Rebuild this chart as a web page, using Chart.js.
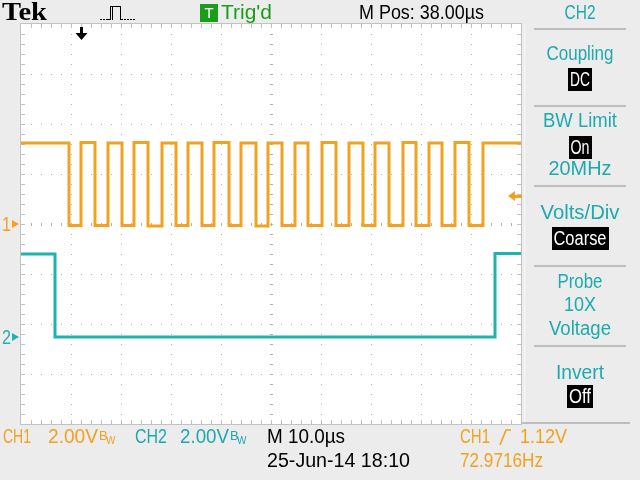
<!DOCTYPE html>
<html>
<head>
<meta charset="utf-8">
<script src="https://cdn.jsdelivr.net/npm/chart.js@4.4.1/dist/chart.umd.min.js"></script>
<style>
html, body { margin: 0; padding: 0; background: #ececec; }
#wrap { width: 640px; height: 480px; }
</style>
</head>
<body>
<div id="wrap"><canvas id="scope" width="640" height="480"></canvas></div>
<script>
// time is in us from the left edge of the screen (10 us/div), levels in volts
const ch1Times = [0, 9.6, 12.0, 14.8, 17.4, 20.2, 22.6, 25.4, 28.2, 31.0, 33.4, 36.2, 38.6,
  41.6, 44.0, 47.0, 49.4, 52.2, 54.8, 57.4, 60.2, 63.0, 65.6, 68.4, 70.8, 73.6, 76.4,
  79.0, 81.6, 84.2, 86.8, 89.6, 92.4, 100];
const ch1Volts = [3.24, -0.06, 3.26, -0.06, 3.24, -0.06, 3.26, -0.08, 3.24, -0.06, 3.24, -0.06, 3.26,
  -0.06, 3.24, -0.08, 3.24, -0.06, 3.24, -0.06, 3.26, -0.06, 3.24, -0.06, 3.24, -0.06, 3.26,
  -0.06, 3.24, -0.06, 3.26, -0.06, 3.24, 3.24];
const ch2Times = [0, 6.8, 94.8, 100];
const ch2Volts = [3.32, 0.0, 3.34, 3.34];

const timeTicks = [0, 10, 20, 30, 40, 50, 60, 70, 80, 90, 100];
const voltTicks = [-8, -6, -4, -2, 0, 2, 4, 6, 8];

const ch2PosDiv = -2.26;   // CH2 ground position, divisions below centre
const trigTime = 12.0;
const trigLevel = 1.12;

const topLabels = ['Tek', "Trig'd", 'M Pos: 38.00\u00b5s', 'CH2'];
const menuText = ['Coupling', 'DC', 'BW Limit', 'On', '20MHz', 'Volts/Div', 'Coarse',
  'Probe', '10X', 'Voltage', 'Invert', 'Off'];
const bottomLabels = ['CH1', '2.00V', 'CH2', '2.00V', 'M 10.0\u00b5s', '25-Jun-14 18:10',
  'CH1', '1.12V', '72.9716Hz'];

const ORANGE = '#f2a120';
const CYAN = '#1fb2ae';
const CYAN_TXT = '#1ea9ae';
const GREEN = '#1a9e1a';
const FONT = '"Liberation Sans", Arial, sans-serif';

function toPoints(times, volts) {
  return times.map((t, i) => ({ x: t, y: volts[i] }));
}

// draw text squeezed/stretched to the width it has on the scope screen
function fitText(ctx, s, x, y, w, align) {
  const m = ctx.measureText(s).width;
  ctx.save();
  ctx.translate(x, y);
  ctx.scale(w / m, 1);
  ctx.textAlign = align || 'left';
  ctx.fillText(s, 0, 0);
  ctx.restore();
}

const scopeScreen = {
  id: 'scopeScreen',
  beforeDraw(chart) {
    const ctx = chart.ctx, a = chart.chartArea;
    const xs = chart.scales.x, ys = chart.scales.y;
    ctx.save();
    ctx.fillStyle = '#ececec';
    ctx.fillRect(0, 0, chart.width, chart.height);
    ctx.fillStyle = '#ffffff';
    ctx.fillRect(a.left, a.top, a.width, a.height);

    // dotted division lines
    ctx.fillStyle = '#b0b0b0';
    timeTicks.slice(1, -1).forEach(t => {
      const px = Math.round(xs.getPixelForValue(t));
      for (let y = a.top + 10; y < a.bottom - 2; y += 10) ctx.fillRect(px, y, 1, 1);
    });
    voltTicks.slice(1, -1).forEach(v => {
      const py = Math.round(ys.getPixelForValue(v));
      for (let x = a.left + 10; x < a.right - 2; x += 10) ctx.fillRect(x, py, 1, 1);
    });
    // centre cross ticks
    const cx = Math.round(xs.getPixelForValue(50)), cy = Math.round(ys.getPixelForValue(0));
    for (let y = a.top + 10; y < a.bottom - 2; y += 10) ctx.fillRect(cx - 1, y, 3, 1);
    for (let x = a.left + 10; x < a.right - 2; x += 10) ctx.fillRect(x, cy - 1, 1, 3);

    // border with minor ticks
    ctx.fillStyle = '#c2c2c2';
    ctx.fillRect(a.left - 1, a.top - 1, a.width + 2, 1);
    ctx.fillRect(a.left - 1, a.bottom, a.width + 2, 1);
    ctx.fillRect(a.left - 1, a.top - 1, 1, a.height + 2);
    ctx.fillRect(a.right, a.top - 1, 1, a.height + 2);
    for (let x = a.left + 10; x < a.right - 2; x += 10) {
      ctx.fillRect(x, a.top, 1, 4);
      ctx.fillRect(x, a.bottom - 4, 1, 4);
    }
    for (let y = a.top + 10; y < a.bottom - 2; y += 10) {
      ctx.fillRect(a.left, y, 4, 1);
      ctx.fillRect(a.right - 4, y, 4, 1);
    }

    // right menu frame
    ctx.fillStyle = '#f7f7f7';
    ctx.fillRect(a.right + 3, a.top, 1, a.height);
    ctx.fillStyle = '#bdbdbd';
    ctx.fillRect(534, 28, 92, 2);
    [105, 185, 265, 345].forEach(y => ctx.fillRect(534, y, 92, 2));
    ctx.fillRect(a.right + 1, a.bottom - 2, 108, 2);
    ctx.restore();
  },
  afterDatasetsDraw(chart) {
    const ctx = chart.ctx, a = chart.chartArea;
    const xs = chart.scales.x, ys = chart.scales.y, y2 = chart.scales.y2;
    ctx.save();
    // ground markers
    const g1 = ys.getPixelForValue(0), g2 = y2.getPixelForValue(0);
    ctx.font = '20px ' + FONT;
    ctx.textBaseline = 'middle';
    [[g1, ORANGE, '1'], [g2, CYAN, '2']].forEach(([gy, col, lab]) => {
      ctx.fillStyle = col;
      fitText(ctx, lab, 2, gy + 1, 9);
      ctx.beginPath();
      ctx.moveTo(12, gy - 4); ctx.lineTo(19, gy); ctx.lineTo(12, gy + 4);
      ctx.closePath(); ctx.fill();
    });
    // trigger level arrow
    const ty = ys.getPixelForValue(trigLevel);
    ctx.fillStyle = ORANGE;
    ctx.beginPath();
    ctx.moveTo(a.right - 13, ty); ctx.lineTo(a.right - 6, ty - 5); ctx.lineTo(a.right - 6, ty + 5);
    ctx.closePath(); ctx.fill();
    ctx.fillRect(a.right - 7, ty - 1, 8, 3);
    // trigger position arrow
    const tx = xs.getPixelForValue(trigTime);
    ctx.fillStyle = '#000';
    ctx.fillRect(tx - 1, a.top + 3, 3, 7);
    ctx.beginPath();
    ctx.moveTo(tx - 5.5, a.top + 9); ctx.lineTo(tx + 6.5, a.top + 9); ctx.lineTo(tx + 0.5, a.top + 16);
    ctx.closePath(); ctx.fill();
    ctx.restore();
  },
  afterDraw(chart) {
    const ctx = chart.ctx;
    ctx.save();
    ctx.textBaseline = 'middle';
    ctx.textAlign = 'left';

    // top bar
    ctx.fillStyle = '#000';
    ctx.font = 'bold 26px "Liberation Serif", serif';
    fitText(ctx, topLabels[0], 2, 13, 45);
    // acquisition icon
    [100, 103, 106].forEach(x => ctx.fillRect(x, 19, 2, 1));
    [124, 127, 130, 133].forEach(x => ctx.fillRect(x, 19, 2, 1));
    ctx.fillRect(108, 19, 2, 1);
    ctx.fillRect(110, 6, 1, 14);
    ctx.fillRect(112, 6, 1, 14);
    ctx.fillRect(110, 6, 11, 1);
    ctx.fillRect(120, 6, 1, 14);
    ctx.fillRect(121, 19, 2, 1);
    // trig'd
    ctx.fillStyle = GREEN;
    ctx.fillRect(200, 4, 18, 18);
    ctx.fillStyle = '#fff';
    ctx.font = '15px ' + FONT;
    ctx.textAlign = 'center';
    ctx.fillText('T', 209, 13.5);
    ctx.textAlign = 'left';
    ctx.font = '20px ' + FONT;
    ctx.fillStyle = GREEN;
    fitText(ctx, topLabels[1], 221, 13, 51);
    ctx.fillStyle = '#000';
    fitText(ctx, topLabels[2], 359, 13, 125);
    ctx.fillStyle = CYAN_TXT;
    fitText(ctx, topLabels[3], 580, 13, 31, 'center');

    // side menu
    const rowY = [53, 79, 120, 147, 168, 212, 238, 281, 304, 328, 372, 396];
    const rowW = [67, 20, 74, 19, 63, 79, 53, 45, 32, 62, 48, 22];
    const boxed = [false, true, false, true, false, false, true, false, false, false, false, true];
    menuText.forEach((s, i) => {
      const y = rowY[i];
      if (boxed[i]) {
        const w = rowW[i] + 4;
        ctx.fillStyle = '#000';
        ctx.fillRect(Math.round(580 - w / 2), y - 11, w, 23);
        ctx.fillStyle = '#fff';
      } else {
        ctx.fillStyle = CYAN_TXT;
      }
      fitText(ctx, s, 580, y + 1, rowW[i], 'center');
    });

    // bottom readout
    const bw = (x, y, col) => {
      ctx.fillStyle = col;
      ctx.font = '13px ' + FONT;
      ctx.fillText('B', x, y - 1);
      ctx.font = '10px ' + FONT;
      ctx.fillText('W', x + 7, y + 4);
      ctx.font = '20px ' + FONT;
    };
    ctx.font = '20px ' + FONT;
    ctx.fillStyle = ORANGE;
    fitText(ctx, bottomLabels[0], 3, 437, 28);
    fitText(ctx, bottomLabels[1], 48, 437, 50);
    bw(99, 437, ORANGE);
    ctx.fillStyle = CYAN_TXT;
    fitText(ctx, bottomLabels[2], 135, 437, 32);
    fitText(ctx, bottomLabels[3], 180, 437, 49);
    bw(230, 437, CYAN_TXT);
    ctx.fillStyle = '#000';
    fitText(ctx, bottomLabels[4], 267, 437, 78);
    fitText(ctx, bottomLabels[5], 267, 461, 143);
    ctx.fillStyle = ORANGE;
    fitText(ctx, bottomLabels[6], 460, 437, 30);
    // rising edge symbol
    ctx.strokeStyle = ORANGE;
    ctx.lineWidth = 1.6;
    ctx.beginPath();
    ctx.moveTo(500, 445); ctx.lineTo(506, 430); ctx.lineTo(511, 430);
    ctx.stroke();
    fitText(ctx, bottomLabels[7], 520, 437, 47);
    fitText(ctx, bottomLabels[8], 460, 461, 83);
    ctx.restore();
  }
};

new Chart(document.getElementById('scope'), {
  type: 'line',
  data: {
    datasets: [
      { label: 'CH1', data: toPoints(ch1Times, ch1Volts), yAxisID: 'y',
        borderColor: ORANGE, borderWidth: 3, stepped: true, pointRadius: 0, fill: false },
      { label: 'CH2', data: toPoints(ch2Times, ch2Volts), yAxisID: 'y2',
        borderColor: CYAN, borderWidth: 3, stepped: true, pointRadius: 0, fill: false }
    ]
  },
  options: {
    responsive: false,
    animation: false,
    events: [],
    layout: { padding: { left: 21, top: 24, right: 119, bottom: 56 } },
    scales: {
      x: { type: 'linear', min: 0, max: 100, display: false },
      y: { min: -8, max: 8, display: false },
      y2: { min: -8 + 2 * -ch2PosDiv, max: 8 + 2 * -ch2PosDiv, display: false }
    },
    plugins: { legend: { display: false }, tooltip: { enabled: false } }
  },
  plugins: [scopeScreen]
});
</script>
</body>
</html>
